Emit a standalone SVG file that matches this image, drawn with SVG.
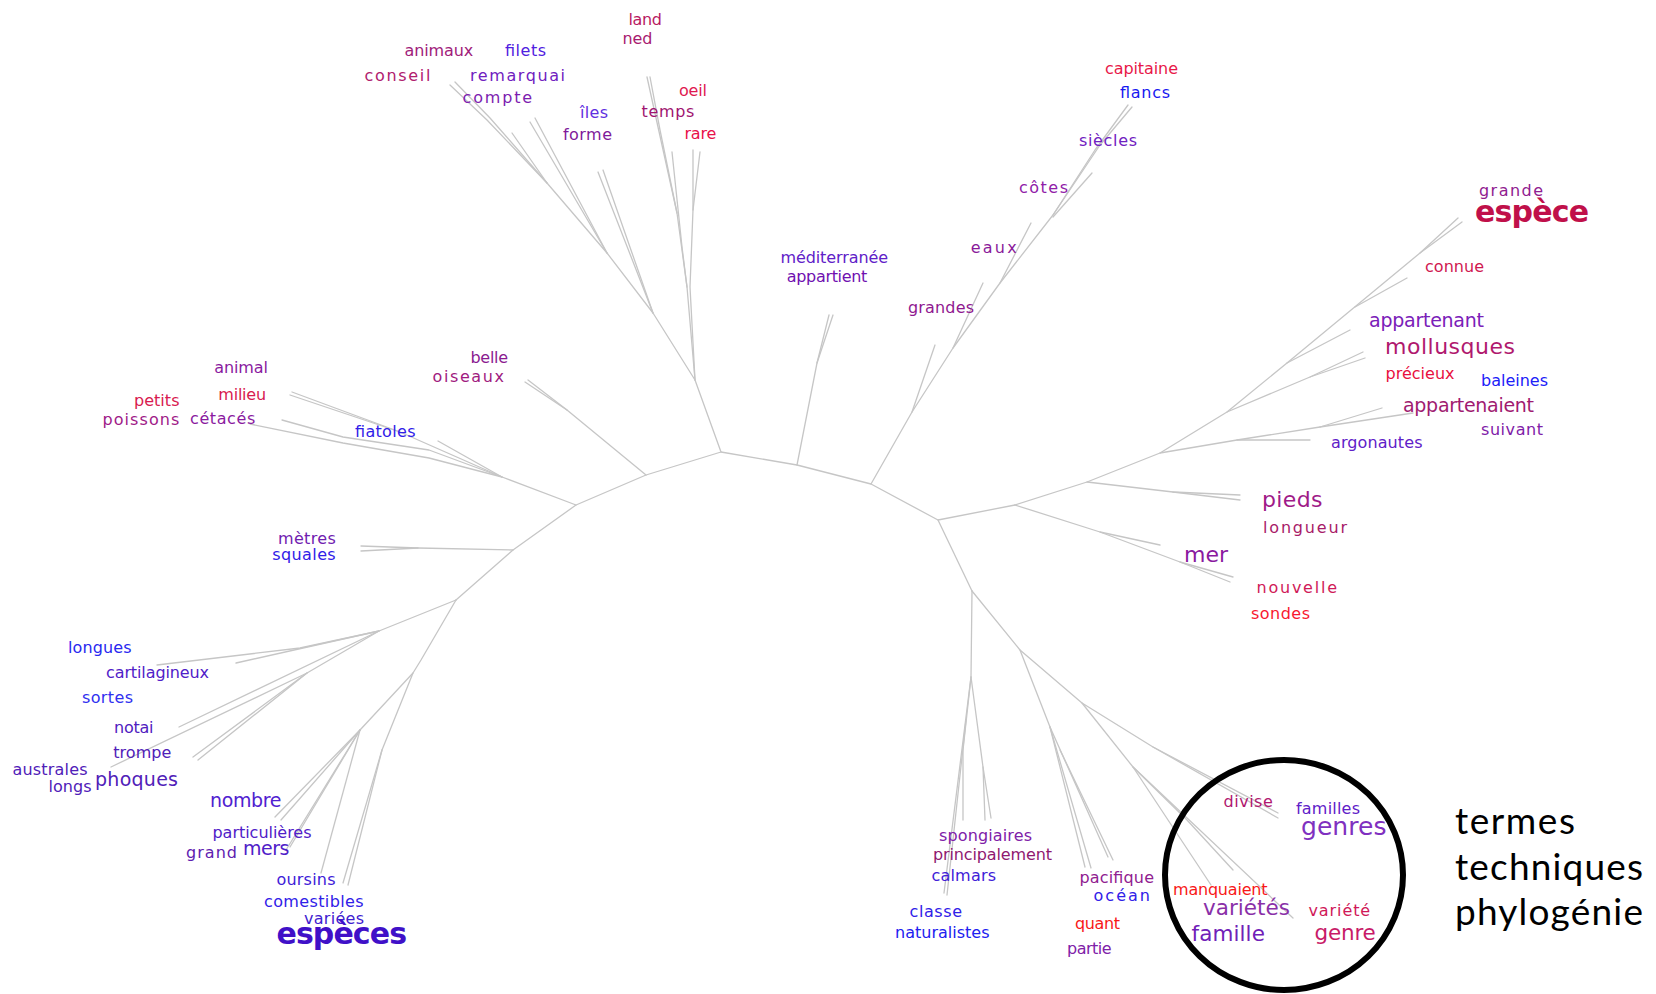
<svg xmlns="http://www.w3.org/2000/svg" width="1656" height="994" viewBox="0 0 1656 994">
  <style>
    .edge { fill: none; stroke: #c6c6c6; stroke-width: 1.3; stroke-linejoin: round; stroke-linecap: round; }
    .w { font-family: "DejaVu Sans", "Liberation Sans", sans-serif; font-size: 16px; }
    .m { font-size: 19px; }
    .l { font-size: 22px; }
    .g { font-size: 21.5px; }
    .gg { font-size: 25px; }
    .xl { font-size: 30px; font-weight: bold; }
    .note { font-family: Lato, "Open Sans", "Liberation Sans", sans-serif; font-size: 37px; fill: #000; }
    .ring { fill: none; stroke: #000; stroke-width: 6; }
  </style>
  <rect width="1656" height="994" fill="#ffffff"/>

  <!-- branches of the unrooted tree -->
  <g id="edges" class="edge">
    <!-- backbone -->
    <path d="M456,600 L513,550 L576,505 L646,475 L721,452 L797,465 L871,484 L938,520 L1015,505"/>
    <path d="M938,520 L972,591"/>
    <!-- top fan -->
    <path d="M721,452 L695,380 L653,313 L607,253 L547,183 L487,120 L450,85"/>
    <path d="M547,183 L490,118 L455,82"/>
    <path d="M547,183 L512,133"/>
    <path d="M607,253 L530,122"/>
    <path d="M607,253 L535,118"/>
    <path d="M653,313 L598,172"/>
    <path d="M653,313 L603,170"/>
    <path d="M695,380 L687,287 L677,213 L658,127 L647,77"/>
    <path d="M677,213 L660,130 L650,77"/>
    <path d="M687,287 L682,247 L672,152"/>
    <path d="M695,380 L690,287 L693,210 L693,150"/>
    <path d="M693,210 L700,152"/>
    <!-- méditerranée -->
    <path d="M797,465 L817,363 L829,315"/>
    <path d="M817,363 L833,315"/>
    <!-- upper right arm -->
    <path d="M871,484 L912,412 L953,348 L1000,283 L1053,215 L1095,150 L1128,105"/>
    <path d="M1053,215 L1100,145 L1132,107"/>
    <path d="M912,412 L935,345"/>
    <path d="M953,348 L983,283"/>
    <path d="M1000,283 L1031,223"/>
    <path d="M1053,217 L1092,173"/>
    <!-- right fan -->
    <path d="M1015,505 L1100,532 L1160,545"/>
    <path d="M1100,532 L1180,562 L1233,577"/>
    <path d="M1180,562 L1230,582"/>
    <path d="M1015,505 L1087,482 L1173,492 L1240,495"/>
    <path d="M1173,492 L1240,500"/>
    <path d="M1087,482 L1160,453 L1227,412 L1287,363 L1420,253 L1458,218"/>
    <path d="M1420,253 L1462,222"/>
    <path d="M1287,363 L1350,330"/>
    <path d="M1355,307 L1407,278"/>
    <path d="M1227,412 L1310,377 L1363,352"/>
    <path d="M1310,377 L1365,358"/>
    <path d="M1160,453 L1237,440 L1310,440"/>
    <path d="M1237,440 L1320,427 L1382,408"/>
    <path d="M1320,427 L1413,413"/>
    <!-- left fan -->
    <path d="M646,475 L567,410 L525,382"/>
    <path d="M567,410 L528,380"/>
    <path d="M576,505 L502,477 L429,458 L343,443 L250,424"/>
    <path d="M502,477 L429,450 L343,437 L282,420"/>
    <path d="M502,477 L438,441"/>
    <path d="M502,477 L400,432 L290,395"/>
    <path d="M400,432 L292,392"/>
    <path d="M513,550 L418,548 L361,546"/>
    <path d="M418,548 L361,551"/>
    <!-- lower left fan -->
    <path d="M456,600 L379,631 L300,648 L157,665"/>
    <path d="M379,631 L236,663"/>
    <path d="M379,631 L179,727"/>
    <path d="M379,631 L307,673 L111,767"/>
    <path d="M307,673 L193,757"/>
    <path d="M307,673 L198,760"/>
    <path d="M456,600 L421,660 L413,673 L360,730 L275,817"/>
    <path d="M360,730 L281,820"/>
    <path d="M360,730 L286,850"/>
    <path d="M360,730 L290,847"/>
    <path d="M360,730 L321,873"/>
    <path d="M413,673 L382,750 L343,883"/>
    <path d="M382,750 L348,885"/>
    <!-- lower fan -->
    <path d="M972,591 L971,677 L963,750 L963,820"/>
    <path d="M971,677 L944,893"/>
    <path d="M966,720 L947,895"/>
    <path d="M971,677 L983,767 L985,820"/>
    <path d="M983,767 L991,818"/>
    <path d="M972,591 L1020,650 L1082,703 L1153,747 L1278,813"/>
    <path d="M1153,747 L1278,818"/>
    <path d="M1020,650 L1050,727 L1085,867"/>
    <path d="M1050,727 L1091,868"/>
    <path d="M1050,727 L1108,857"/>
    <path d="M1060,750 L1113,860"/>
    <path d="M1082,703 L1133,767 L1187,820 L1233,870"/>
    <path d="M1133,767 L1211,885"/>
    <path d="M1133,767 L1293,918"/>
  </g>

  <!-- leaf words -->
  <g id="w-animaux"><text class="w" x="404.6" y="56" textLength="68.6" fill="#a0207a">animaux</text></g>
  <g id="w-filets"><text class="w" x="505" y="56" textLength="41" fill="#5020e0">filets</text></g>
  <g id="w-conseil"><text class="w" x="364.4" y="81" textLength="66" fill="#b0206e">conseil</text></g>
  <g id="w-remarquai"><text class="w" x="470" y="81" textLength="95" fill="#7020c0">remarquai</text></g>
  <g id="w-compte"><text class="w" x="462.6" y="103" textLength="69.5" fill="#7d1db0">compte</text></g>
  <g id="w-iles"><text class="w" x="580" y="118" textLength="28" fill="#6030e0">îles</text></g>
  <g id="w-forme"><text class="w" x="563" y="140" textLength="49" fill="#801a9a">forme</text></g>
  <g id="w-land"><text class="w" x="628.4" y="25" textLength="33.5" fill="#b81a62">land</text></g>
  <g id="w-ned"><text class="w" x="622.5" y="44" textLength="30" fill="#a81a70">ned</text></g>
  <g id="w-oeil"><text class="w" x="679" y="96" textLength="28" fill="#e01850">oeil</text></g>
  <g id="w-temps"><text class="w" x="641.4" y="117" textLength="53" fill="#a01470">temps</text></g>
  <g id="w-rare"><text class="w" x="684.4" y="139" textLength="32" fill="#e8104a">rare</text></g>
  <g id="w-mediterranee"><text class="w" x="780.5" y="263" textLength="107.5" fill="#6020c8">méditerranée</text></g>
  <g id="w-appartient"><text class="w" x="786.8" y="282" textLength="80.5" fill="#7010b0">appartient</text></g>
  <g id="w-capitaine"><text class="w" x="1105" y="74" textLength="73" fill="#e81848">capitaine</text></g>
  <g id="w-flancs"><text class="w" x="1120" y="98" textLength="50" fill="#1818f0">flancs</text></g>
  <g id="w-siecles"><text class="w" x="1079" y="146" textLength="58" fill="#7020c0">siècles</text></g>
  <g id="w-cotes"><text class="w" x="1019" y="193" textLength="49" fill="#9020a8">côtes</text></g>
  <g id="w-eaux"><text class="w" x="970.7" y="253" textLength="46" fill="#8a1a9a">eaux</text></g>
  <g id="w-grandes"><text class="w" x="908" y="313" textLength="66" fill="#901890">grandes</text></g>
  <g id="w-grande"><text class="w" x="1479" y="196" textLength="64" fill="#902090">grande</text></g>
  <g id="w-espece"><text class="w xl" x="1475" y="222" textLength="114" fill="#c0104a">espèce</text></g>
  <g id="w-connue"><text class="w" x="1425" y="272" textLength="59" fill="#d01850">connue</text></g>
  <g id="w-appartenant"><text class="w m" x="1369" y="327" textLength="115" fill="#7a20b8">appartenant</text></g>
  <g id="w-mollusques"><text class="w l" x="1385" y="354" textLength="130" fill="#b0186e">mollusques</text></g>
  <g id="w-precieux"><text class="w" x="1385.5" y="379" textLength="69" fill="#e81040">précieux</text></g>
  <g id="w-baleines"><text class="w" x="1481" y="386" textLength="67" fill="#2020f8">baleines</text></g>
  <g id="w-appartenaient"><text class="w m" x="1403" y="412" textLength="131" fill="#a01a70">appartenaient</text></g>
  <g id="w-suivant"><text class="w" x="1481" y="435" textLength="62" fill="#8020a8">suivant</text></g>
  <g id="w-argonautes"><text class="w" x="1331" y="448" textLength="91.5" fill="#6020c8">argonautes</text></g>
  <g id="w-pieds"><text class="w l" x="1262" y="507" textLength="60.5" fill="#a01a88">pieds</text></g>
  <g id="w-longueur"><text class="w" x="1263" y="533" textLength="84" fill="#a81a68">longueur</text></g>
  <g id="w-mer"><text class="w l" x="1184" y="562" textLength="44" fill="#8a1aa0">mer</text></g>
  <g id="w-nouvelle"><text class="w" x="1256.5" y="593" textLength="80.5" fill="#d01a58">nouvelle</text></g>
  <g id="w-sondes"><text class="w" x="1251" y="619" textLength="59" fill="#f81830">sondes</text></g>
  <g id="w-belle"><text class="w" x="470.5" y="363" textLength="37.5" fill="#8a1a90">belle</text></g>
  <g id="w-oiseaux"><text class="w" x="432.5" y="382" textLength="71.5" fill="#a01a80">oiseaux</text></g>
  <g id="w-animal"><text class="w" x="214.2" y="373" textLength="53.8" fill="#8a1aa0">animal</text></g>
  <g id="w-milieu"><text class="w" x="218.3" y="400" textLength="47.8" fill="#d81a50">milieu</text></g>
  <g id="w-petits"><text class="w" x="134" y="406" textLength="45.5" fill="#d81a50">petits</text></g>
  <g id="w-poissons"><text class="w" x="102.4" y="425" textLength="77" fill="#a01a88">poissons</text></g>
  <g id="w-cetaces"><text class="w" x="190" y="424" textLength="65.3" fill="#8a1aa0">cétacés</text></g>
  <g id="w-fiatoles"><text class="w" x="355" y="437" textLength="60.5" fill="#3020e8">fiatoles</text></g>
  <g id="w-metres"><text class="w" x="278" y="544" textLength="57.8" fill="#7020b0">mètres</text></g>
  <g id="w-squales"><text class="w" x="272.3" y="560" textLength="63.4" fill="#3020e8">squales</text></g>
  <g id="w-longues"><text class="w" x="68" y="653" textLength="63.5" fill="#2828f0">longues</text></g>
  <g id="w-cartilagineux"><text class="w" x="106" y="678" textLength="103" fill="#5020c8">cartilagineux</text></g>
  <g id="w-sortes"><text class="w" x="82" y="703" textLength="51" fill="#3030f0">sortes</text></g>
  <g id="w-notai"><text class="w" x="114" y="733" textLength="39.5" fill="#5020c0">notai</text></g>
  <g id="w-trompe"><text class="w" x="113.3" y="758" textLength="58" fill="#5020b8">trompe</text></g>
  <g id="w-australes"><text class="w" x="12.5" y="775" textLength="75" fill="#5020b8">australes</text></g>
  <g id="w-longs"><text class="w" x="48.5" y="792" textLength="43" fill="#5020b8">longs</text></g>
  <g id="w-phoques"><text class="w m" x="95" y="786" textLength="83" fill="#5020b8">phoques</text></g>
  <g id="w-nombre"><text class="w m" x="210" y="807" textLength="71.4" fill="#5020d0">nombre</text></g>
  <g id="w-particulieres"><text class="w" x="212.5" y="838" textLength="99" fill="#5020c8">particulières</text></g>
  <g id="w-grand"><text class="w" x="186" y="858" textLength="51" fill="#6020b0">grand</text></g>
  <g id="w-mers"><text class="w m" x="243" y="855" textLength="46.4" fill="#5020c8">mers</text></g>
  <g id="w-oursins"><text class="w" x="276.5" y="885" textLength="59" fill="#4020d8">oursins</text></g>
  <g id="w-comestibles"><text class="w" x="264" y="907" textLength="99.5" fill="#3020e8">comestibles</text></g>
  <g id="w-variees"><text class="w" x="304" y="924" textLength="60" fill="#4020d0">variées</text></g>
  <g id="w-especes"><text class="w xl" x="276.5" y="944" textLength="130.5" fill="#4010c8">espèces</text></g>
  <g id="w-spongiaires"><text class="w" x="939" y="841" textLength="93" fill="#8020a8">spongiaires</text></g>
  <g id="w-principalement"><text class="w" x="933" y="860" textLength="119" fill="#901870">principalement</text></g>
  <g id="w-calmars"><text class="w" x="931.5" y="881" textLength="64.5" fill="#4020d8">calmars</text></g>
  <g id="w-classe"><text class="w" x="909.5" y="917" textLength="52.5" fill="#3020e8">classe</text></g>
  <g id="w-naturalistes"><text class="w" x="895" y="938" textLength="94.5" fill="#2020f0">naturalistes</text></g>
  <g id="w-pacifique"><text class="w" x="1079.5" y="883" textLength="74.5" fill="#902090">pacifique</text></g>
  <g id="w-ocean"><text class="w" x="1093.5" y="901" textLength="56.5" fill="#3020e8">océan</text></g>
  <g id="w-quant"><text class="w" x="1075" y="929" textLength="45" fill="#f81818">quant</text></g>
  <g id="w-partie"><text class="w" x="1067" y="954" textLength="44.6" fill="#8020a8">partie</text></g>
  <g id="w-divise"><text class="w" x="1223.5" y="807" textLength="49.3" fill="#b01870">divise</text></g>
  <g id="w-familles"><text class="w" x="1296" y="814" textLength="64" fill="#6020c8">familles</text></g>
  <g id="w-genres"><text class="w gg" x="1301" y="835" textLength="85.5" fill="#8030c0">genres</text></g>
  <g id="w-manquaient"><text class="w" x="1173" y="895" textLength="94.5" fill="#f81818">manquaient</text></g>
  <g id="w-varietes"><text class="w g" x="1203" y="915" textLength="87" fill="#8a30a8">variétés</text></g>
  <g id="w-variete"><text class="w" x="1308.5" y="916" textLength="61.7" fill="#d01858">variété</text></g>
  <g id="w-famille"><text class="w g" x="1191.5" y="941" textLength="73.4" fill="#7020b8">famille</text></g>
  <g id="w-genre"><text class="w g" x="1314.5" y="940" textLength="61.3" fill="#c81a68">genre</text></g>

  <!-- highlighted group of classification terms -->
  <g id="highlight">
    <ellipse class="ring" cx="1284" cy="875" rx="119" ry="115"/>
    <text class="note" x="1455" y="834" textLength="120">termes</text>
    <text class="note" x="1455" y="880" textLength="188">techniques</text>
    <text class="note" x="1455" y="925" textLength="188">phylogénie</text>
  </g>
</svg>
